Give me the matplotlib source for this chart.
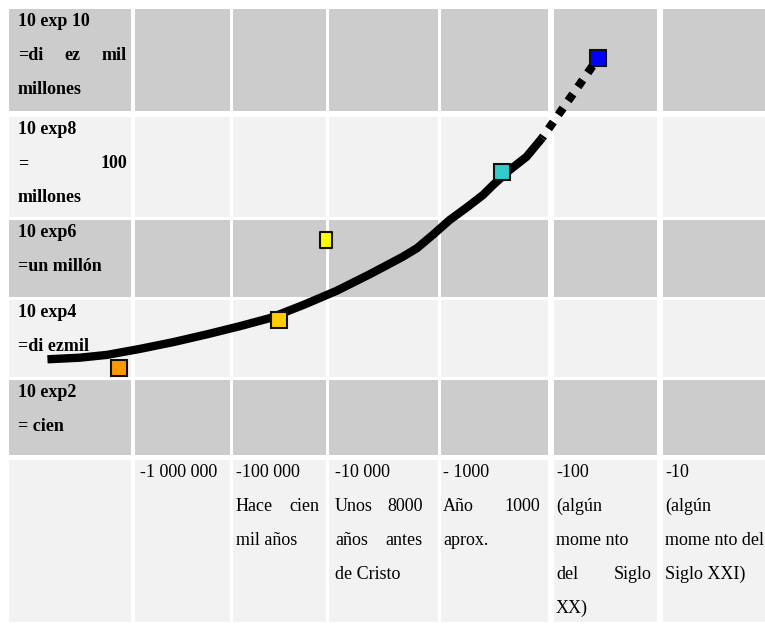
import numpy as np
import matplotlib
matplotlib.use("Agg")
import matplotlib.pyplot as plt
from matplotlib.path import Path

# --- data (x = -log10(years before present), y = log10(population)) ---
year_pos = [-6.69, -6.43, -6.21, -5.93, -5.59, -5.24, -4.91, -4.60, -4.25,
            -3.92, -3.62, -3.33, -3.20, -3.06, -2.91, -2.75, -2.61, -2.52,
            -2.37, -2.22, -2.08]
pop_exp = [3.48, 3.52, 3.59, 3.74, 3.91, 4.11, 4.31, 4.51, 4.84,
           5.19, 5.61, 6.04, 6.26, 6.59, 6.96, 7.22, 7.45, 7.64,
           7.93, 8.18, 8.54]
proj_pos = [-2.08, -1.58]
proj_exp = [8.54, 10.03]

point_pos = [-6.11, -4.50, -4.02, -2.44, -1.57]
point_exp = [3.26, 4.46, 6.46, 7.89, 10.07]
point_colors = ["#ff9900", "#ffcc00", "#ffff00", "#33cccc", "#0000ff"]

row_labels = [
    ["10 exp 10", "=di ez mil", "millones"],
    ["10 exp8", "= 100", "millones"],
    ["10 exp6", "=un millón"],
    ["10 exp4", "=di ezmil"],
    ["10 exp2", "= cien"],
]
row_justify = [[0, 1, 0], [0, 1, 0], [0, 0], [0, 0], [0, 0]]

col_labels = [
    ["-1 000 000"],
    ["-100 000", "Hace cien", "mil años"],
    ["-10 000", "Unos 8000", "años antes", "de Cristo"],
    ["- 1000", "Año 1000", "aprox."],
    ["-100", "(algún", "mome nto", "del Siglo", "XX)"],
    ["-10", "(algún", "mome nto del", "Siglo XXI)"],
]
col_justify = [[0], [0, 1, 0], [0, 1, 1, 0], [0, 1, 0], [0, 0, 0, 1, 0], [0, 0, 0, 0]]

# --- table layout (pixels) ---
W, H = 765, 624
col_left = [9, 135, 233, 329, 441, 554, 663]
col_right = [131, 230, 326, 438, 548, 657, 766]
row_top = [9, 117, 220, 300, 380, 460]
row_bot = [111, 217, 297, 377, 455, 622]
row_fill = ["#cccccc", "#f2f2f2", "#cccccc", "#f2f2f2", "#cccccc", "#f2f2f2"]
label_x0, label_x1 = 18, 127
col_text_x0 = [140, 236, 335, 443, 556, 665]
col_text_x1 = [225, 319, 423, 540, 652, 760]
line_step = 34
first_base = 17

fig = plt.figure(figsize=(W / 100, H / 100), dpi=100)
bg = fig.add_axes([0, 0, 1, 1])
bg.set_xlim(0, W)
bg.set_ylim(H, 0)
bg.axis("off")

for r in range(len(row_top)):
    for c in range(len(col_left)):
        bg.add_patch(plt.Rectangle((col_left[c], row_top[r]),
                                   col_right[c] - col_left[c],
                                   row_bot[r] - row_top[r],
                                   facecolor=row_fill[r], edgecolor="none"))

renderer = fig.canvas.get_renderer()
font = dict(family=["Liberation Serif", "DejaVu Serif"], size=13, color="black")


def put_line(text, x0, x1, y, justify, weight):
    words = text.split(" ")
    if not justify or len(words) < 2:
        bg.text(x0, y, text, ha="left", va="baseline", weight=weight, **font)
        return
    arts = [bg.text(0, y, w, ha="left", va="baseline", weight=weight, **font)
            for w in words]
    widths = [a.get_window_extent(renderer).width for a in arts]
    gap = (x1 - x0 - sum(widths)) / (len(words) - 1)
    x = x0
    for a, w in zip(arts, widths):
        a.set_x(x)
        x += w + gap


for r, lines in enumerate(row_labels):
    for i, line in enumerate(lines):
        put_line(line, label_x0, label_x1, row_top[r] + first_base + i * line_step,
                 row_justify[r][i], "bold")

for c, lines in enumerate(col_labels):
    for i, line in enumerate(lines):
        put_line(line, col_text_x0[c], col_text_x1[c],
                 row_top[5] + first_base + i * line_step, col_justify[c][i], "normal")

# --- data axes with piecewise scales matching the table cells ---
T_knots = np.array([-8, -7, -6, -5, -4, -3, -2, -1, 0, 1], float)
X_px = np.array([-115, 9, 133, 231.5, 327.5, 439.5, 551, 660, 765, 870], float)
E_knots = np.array([-2, -1, 1, 3, 5, 7, 9, 11, 12], float)
Y_px = np.array([700, 622, 457.5, 378.5, 298.5, 218.5, 114, 9, -43.5], float)


def fx(t):
    return np.interp(t, T_knots, X_px)


def ix(p):
    return np.interp(p, X_px, T_knots)


def fy(e):
    return -np.interp(e, E_knots, Y_px)


def iy(v):
    return np.interp(-np.asarray(v), Y_px[::-1], E_knots[::-1])


ax = fig.add_axes([0, 0, 1, 1])
ax.patch.set_alpha(0)
ax.set_xscale("function", functions=(fx, ix))
ax.set_yscale("function", functions=(fy, iy))
ax.set_xlim(float(ix(0)), float(ix(W)))
ax.set_ylim(float(iy(-H)), float(iy(0)))
ax.axis("off")

ax.plot(year_pos, pop_exp, color="black", lw=6, solid_capstyle="butt",
        solid_joinstyle="round", zorder=3)
ax.plot(proj_pos, proj_exp, color="black", lw=6, linestyle=(0.7, (1.0, 1.05)),
        dash_capstyle="butt", zorder=5)

tall_box = Path([(-0.39, -0.5), (0.39, -0.5), (0.39, 0.5), (-0.39, 0.5), (-0.39, -0.5)],
                [Path.MOVETO, Path.LINETO, Path.LINETO, Path.LINETO, Path.CLOSEPOLY])
for i, (px, py, col) in enumerate(zip(point_pos, point_exp, point_colors)):
    mk = tall_box if i == 2 else "s"
    ms = 11.5 if i == 2 else 11
    ax.plot([px], [py], marker=mk, ms=ms, mfc=col, mec="#111111", mew=1.5,
            linestyle="none", zorder=4)

fig.savefig("out.png", dpi=100)
